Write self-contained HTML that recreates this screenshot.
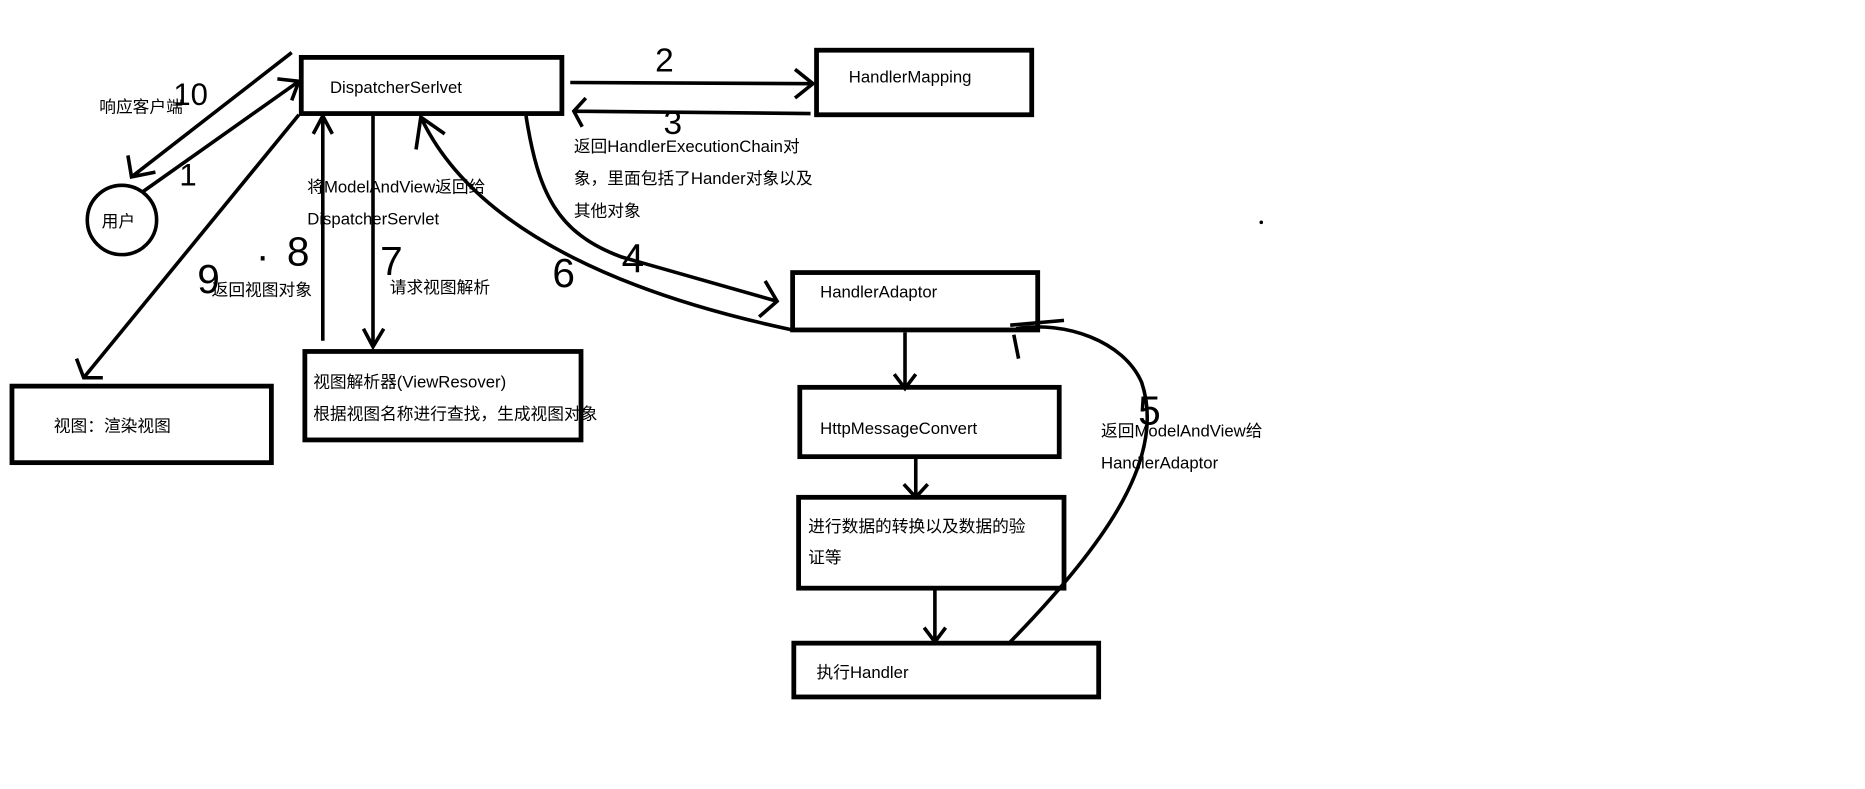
<!DOCTYPE html>
<html><head><meta charset="utf-8"><style>
html,body{margin:0;padding:0;background:#fff;}
svg{display:block;}
text{font-family:"Liberation Sans","Noto Sans CJK SC",sans-serif;font-size:14px;fill:#000;}
.h{font-family:"Liberation Sans",sans-serif;font-size:34px;}
</style></head><body>
<svg width="1865" height="789" viewBox="0 0 1560 660" preserveAspectRatio="none" xmlns="http://www.w3.org/2000/svg">
<rect width="1560" height="660" fill="#fff"/>
<g fill="none" stroke="#000" stroke-width="4">
<rect x="252" y="48" width="218" height="47"/>
<rect x="683" y="42" width="180" height="54"/>
<circle cx="102" cy="184" r="29" stroke-width="3"/>
<rect x="10" y="323" width="217" height="64"/>
<rect x="255" y="294" width="231" height="74"/>
<rect x="663" y="228" width="205" height="48"/>
<rect x="669" y="324" width="217" height="58"/>
<rect x="668" y="416" width="222" height="76"/>
<rect x="664" y="538" width="255" height="45"/>
</g>
<g fill="none" stroke="#000" stroke-width="3">
<path d="M477 69 L680 70 M665 58 L680 70 L665 82"/>
<path d="M678 95 L480 93 M490 82 L480 93 L487 106"/>
<path d="M244 44 L110 148 M107 130 L110 148 L130 144"/>
<path d="M120 160 L250 68 M232 66 L250 68 L244 84"/>
<path d="M250 96 L70 316 M64 300 L70 316 L86 316"/>
<path d="M270 285 L270 97 M262 112 L270 97 L278 112"/>
<path d="M312 97 L312 290 M304 275 L312 290 L321 275"/>
<path d="M663 276 C540 250 400 200 352 98 M348 125 L352 98 L372 112"/>
<path d="M440 97 C450 160 465 195 520 215 L650 252 M635 265 L650 252 L640 235"/>
<path d="M757 278 L757 325 M748 313 L757 325 L766 313"/>
<path d="M766 382 L766 416 M756 405 L766 416 L776 405"/>
<path d="M782 492 L782 537 M773 525 L782 537 L791 525"/>
<path d="M845 537 C930 450 975 380 955 320 C940 285 890 268 850 275 M845 272 L890 268 M848 280 L852 300"/>
</g>
<g>
<text x="276" y="78">DispatcherSerlvet</text>
<text x="710" y="69">HandlerMapping</text>
<text x="85" y="190">用户</text>
<text x="45" y="361">视图：渲染视图</text>
<text x="262" y="324">视图解析器(ViewResover)</text>
<text x="262" y="351">根据视图名称进行查找，生成视图对象</text>
<text x="686" y="249">HandlerAdaptor</text>
<text x="686" y="363">HttpMessageConvert</text>
<text x="676" y="445">进行数据的转换以及数据的验</text>
<text x="676" y="471">证等</text>
<text x="683" y="567">执行Handler</text>
<text x="83" y="94">响应客户端</text>
<text x="480" y="127">返回HandlerExecutionChain对</text>
<text x="480" y="154">象，里面包括了Hander对象以及</text>
<text x="480" y="181">其他对象</text>
<text x="257" y="161">将ModelAndView返回给</text>
<text x="257" y="188">DispatcherServlet</text>
<text x="177" y="247">返回视图对象</text>
<text x="326" y="245">请求视图解析</text>
<text x="921" y="365">返回ModelAndView给</text>
<text x="921" y="392">HandlerAdaptor</text>
<text class="h" x="145" y="88" style="font-size:26px">10</text>
<text class="h" x="150" y="155" style="font-size:26px">1</text>
<text class="h" x="165" y="245">9</text>
<text class="h" x="215" y="218">.</text>
<text class="h" x="240" y="222">8</text>
<text class="h" x="318" y="230">7</text>
<text class="h" x="462" y="240">6</text>
<text class="h" x="520" y="228">4</text>
<text class="h" x="548" y="60" style="font-size:28px">2</text>
<text class="h" x="555" y="112" style="font-size:28px">3</text>
<text class="h" x="952" y="355">5</text>
<circle cx="1055" cy="186" r="1.5" fill="#000"/>
</g>
</svg>
</body></html>
